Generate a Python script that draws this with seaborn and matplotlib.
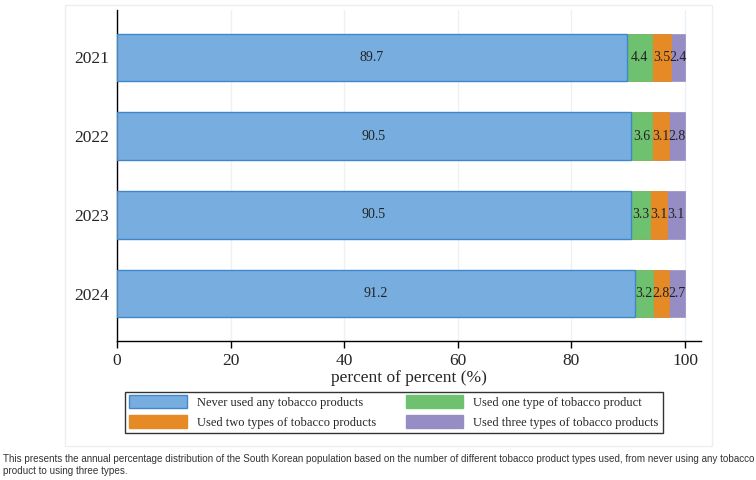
import numpy as np
import pandas as pd
import matplotlib
matplotlib.use("Agg")
import matplotlib.pyplot as plt
import seaborn as sns
from matplotlib.patches import Patch, Rectangle

# ---------------- DATA ----------------
years = ["2021", "2022", "2023", "2024"]
never = [89.7, 90.5, 90.5, 91.2]
one_type = [4.4, 3.6, 3.3, 3.2]
two_types = [3.5, 3.1, 3.1, 2.8]
three_types = [2.4, 2.8, 3.1, 2.7]

series_names = ["Never used any tobacco products", "Used one type of tobacco product",
                "Used two types of tobacco products", "Used three types of tobacco products"]
colors = ["#78AEDF", "#6EC16E", "#E68A26", "#968DC5"]
edge_blue = "#3F87CC"

sns.set_theme(style="white")
plt.rcParams["font.family"] = ["Liberation Serif", "DejaVu Serif"]

df = pd.DataFrame({"year": years, "never": never, "one": one_type,
                   "two": two_types, "three": three_types})
parts = [df["never"], df["one"], df["two"], df["three"]]
cums = np.cumsum(np.vstack(parts), axis=0)

fig = plt.figure(figsize=(7.56, 4.8), dpi=100)
# outer light frame
fig.patches.append(Rectangle((65 / 756, 1 - 446 / 480), (712 - 65) / 756, (446 - 5) / 480,
                             transform=fig.transFigure, fill=False, edgecolor="#EEEEEE", lw=1))
ax = fig.add_axes([117 / 756, 1 - 341 / 480, (701 - 117) / 756, (341 - 10) / 480])

# stacked bars: draw cumulative totals from largest to smallest
for i in range(3, -1, -1):
    sns.barplot(x=cums[i], y=df["year"], orient="h", color=colors[i], width=0.6,
                saturation=1, ax=ax, zorder=3,
                edgecolor=edge_blue if i == 0 else colors[i], linewidth=1 if i == 0 else 0.5)

# segment labels
for j in range(len(years)):
    left = 0
    for i in range(4):
        val = parts[i].iloc[j]
        ax.text(left + val / 2, j, f"{val:.1f}", ha="center", va="center",
                fontsize=10, color="#222222", zorder=4)
        left += val

ax.set_xlim(0, 102.8)
ax.set_ylim(3.6, -0.6)
ax.set_xticks([0, 20, 40, 60, 80, 100])
ax.xaxis.grid(True, color="#EAF2F8", lw=1, zorder=0)
ax.set_axisbelow(True)
for s in ["top", "right"]:
    ax.spines[s].set_visible(False)
for s in ["left", "bottom"]:
    ax.spines[s].set_color("black")
    ax.spines[s].set_linewidth(1)
ax.tick_params(axis="x", bottom=True, length=5, width=1, labelsize=12.5, color="black")
ax.tick_params(axis="y", left=False, length=0, labelsize=12.5, pad=6)
ax.set_ylabel("")
ax.set_xlabel("percent of percent (%)", fontsize=12.5, labelpad=1)

# legend filled row by row: matplotlib fills columns, so reorder
order = [0, 2, 1, 3]
handles = [Patch(facecolor=colors[k], edgecolor=(edge_blue if k == 0 else colors[k])) for k in order]
labels = [series_names[k] for k in order]
leg = fig.legend(handles, labels, ncol=2, loc="center",
                 bbox_to_anchor=(394 / 756, 1 - 412 / 480), frameon=True, fancybox=False,
                 edgecolor="black", fontsize=9, handlelength=4.6, handleheight=1.2,
                 handletextpad=0.8, columnspacing=2.4, borderpad=0.3, labelspacing=0.5)
leg.get_frame().set_linewidth(1)

fig.text(3 / 756, 1 - 454 / 480,
         "This presents the annual percentage distribution of the South Korean population based on the number of different tobacco product types used, from never using any tobacco\nproduct to using three types.",
         fontsize=7.1, va="top", ha="left", color="#333333",
         family=["Liberation Sans", "DejaVu Sans"], linespacing=1.3)

fig.savefig("out.png", dpi=100)
